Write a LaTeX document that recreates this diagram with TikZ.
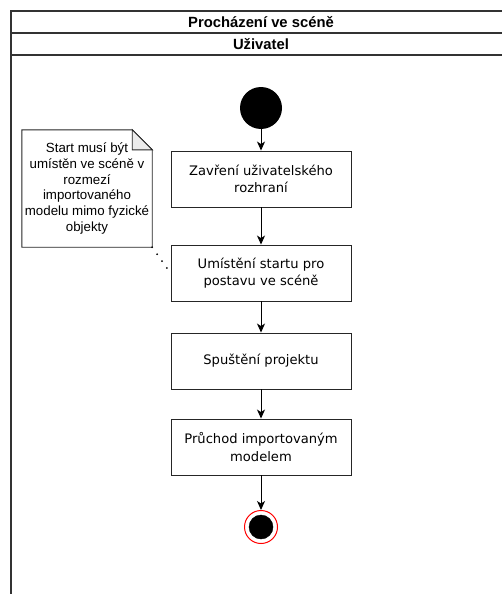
\documentclass[tikz,border=0pt]{standalone}
\usepackage{fontspec}
\setmainfont{Liberation Sans}
\newfontfamily\boxfont{DejaVu Sans}
\usetikzlibrary{arrows.meta,calc,backgrounds}
\begin{document}
\begin{tikzpicture}[x=1pt,y=-1pt,
  laneline/.style={line width=1.3pt, draw=black!80},
  heading/.style={font=\bfseries\fontsize{14.8}{16}\selectfont, inner sep=0pt},
  action/.style={draw=black!85, line width=0.9pt, minimum width=180pt,
    minimum height=56pt, inner sep=0pt, align=center,
    font=\boxfont\fontsize{13.1}{17.3}\selectfont},
  flow/.style={line width=1pt, draw=black,
    -{Stealth[length=9pt,width=8pt,inset=2.5pt]}},
  notetext/.style={minimum width=130pt, minimum height=117pt, inner sep=0pt,
    align=center, font=\fontsize{13.3}{15.8}\selectfont},
  noteline/.style={draw=black!85, line width=0.9pt},
  anchorline/.style={line width=2pt, line cap=round,
    dash pattern=on 0pt off 8.5pt}
]
\useasboundingbox (0,0) rectangle (502,594);

% swimlane frame with its two header rows
\draw[laneline] (11,594) -- (11,11) -- (502,11);
\draw[laneline] (11,33) -- (502,33);
\draw[laneline] (11,55) -- (502,55);
\node[heading] (title) at (261,22) {Procházení ve scéně};
\node[heading] (lane) at (261,44) {Uživatel};

% initial node
\node[circle, fill=black, minimum size=42pt, inner sep=0pt] (start) at (261,108) {};

% actions
\node[action] (a1) at (261,179) {Zavření uživatelského\\rozhraní};
\node[action] (a2) at (261,273) {Umístění startu pro\\postavu ve scéně};
\node[action] (a3) at (261,361) {Spuštění projektu};
\node[action] (a4) at (261,447) {Průchod importovaným\\modelem};

% final node
\node[circle, draw=red, line width=1pt, fill=white, minimum size=33pt, inner sep=0pt] (end) at (261,527) {};
\node[circle, fill=black, draw=black, minimum size=24pt, inner sep=0pt] (endcore) at (end) {};

% control flow
\draw[flow] (start) -- (a1);
\draw[flow] (a1) -- (a2);
\draw[flow] (a2) -- (a3);
\draw[flow] (a3) -- (a4);
\draw[flow] (a4) -- (end);

% comment note with folded corner
\node[notetext] (note) at (87,188.5) {Start musí být\\umístěn ve scéně v\\rozmezí\\importovaného\\modelu mimo fyzické\\objekty};
\coordinate (fold) at ($(note.north east)+(-20,0)$);
\coordinate (foldend) at ($(note.north east)+(0,20)$);
\coordinate (foldin) at ($(note.north east)+(-20,20)$);
\begin{scope}[on background layer]
  \filldraw[fill=white, noteline] (note.north west) -- (fold) -- (foldend) -- (note.south east) -- (note.south west) -- cycle;
  \filldraw[fill=black!8, noteline] (fold) -- (foldend) -- (foldin) -- cycle;
\end{scope}
\draw[anchorline] (note.south east) -- (a2.west);
\end{tikzpicture}
\end{document}
